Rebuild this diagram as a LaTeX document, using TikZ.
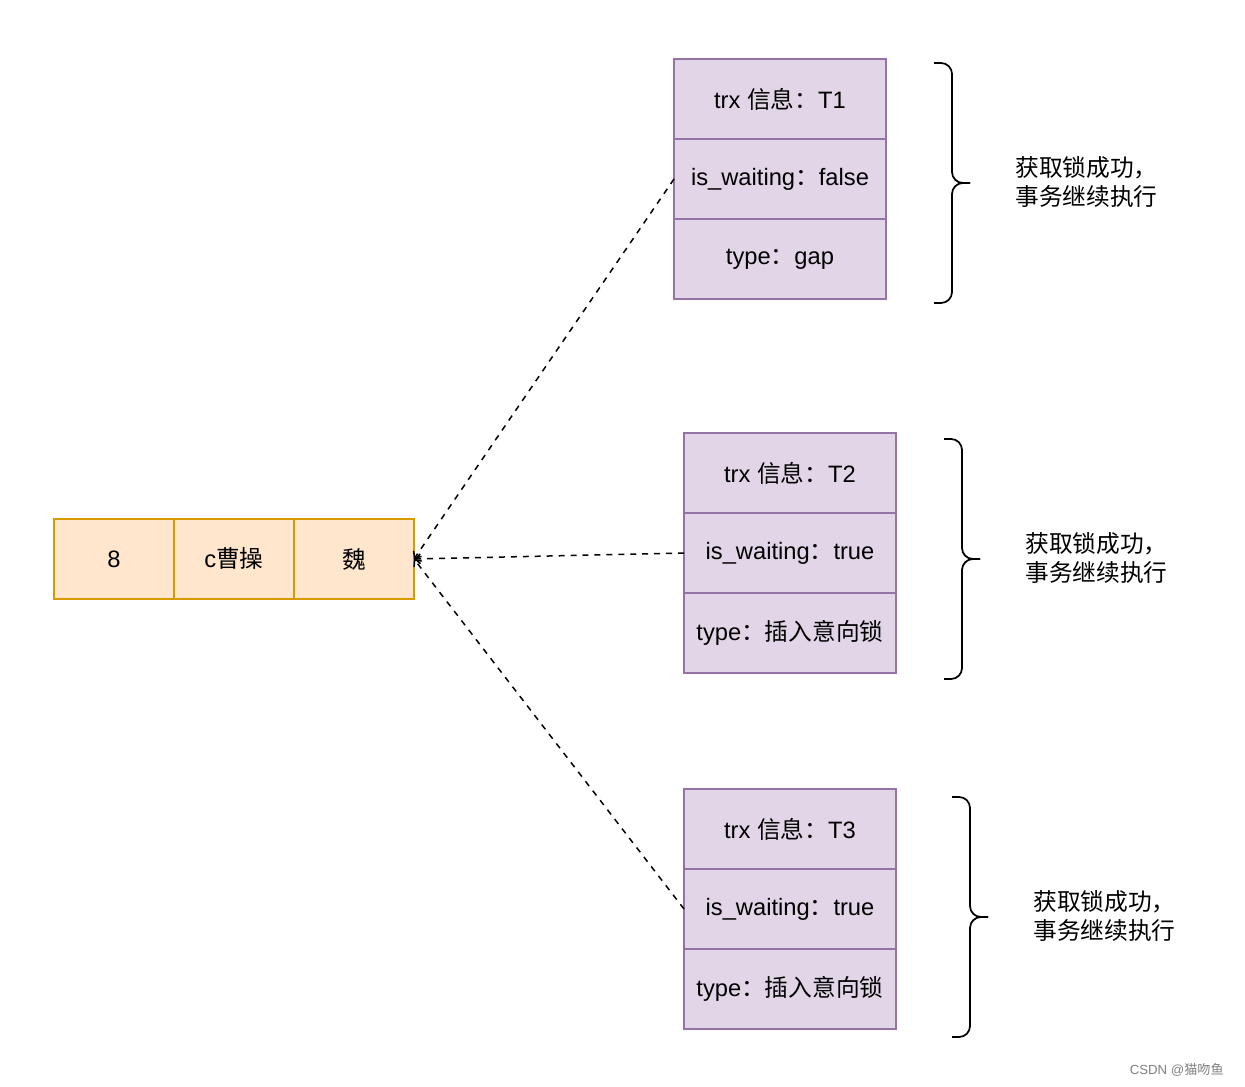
\documentclass[tikz,border=0pt]{standalone}
\usepackage{fontspec}
\setmainfont{Liberation Sans}
\newfontfamily\cjk{Noto Sans CJK SC}
\newcommand{\zh}[1]{{\cjk #1}}
\usetikzlibrary{arrows.meta}

\tikzset{
  keycell/.style={draw=keyline, fill=keyfill, line width=0.9pt, minimum width=2.4cm, minimum height=1.6cm, inner sep=0pt, outer sep=0pt},
  lockcell/.style={draw=lockline, fill=lockfill, line width=0.9pt, minimum width=4.24cm, minimum height=1.6cm, inner sep=0pt, outer sep=0pt},
  link/.style={dashed, dash pattern=on 3.4pt off 3.4pt, line width=0.85pt, -{Straight Barb[length=3pt,width=5.5pt]}},
  bracket/.style={rounded corners=0.22cm, line width=1pt},
  note/.style={anchor=west, align=left, inner sep=0pt}
}
\definecolor{keyfill}{HTML}{FFE6CC}
\definecolor{keyline}{HTML}{D79B00}
\definecolor{lockfill}{HTML}{E1D5E7}
\definecolor{lockline}{HTML}{9673A6}

\begin{document}
\begin{tikzpicture}[x=0.02cm, y=-0.02cm, font=\fontsize{13.5}{16}\selectfont]
  \useasboundingbox (0,0) rectangle (1245,1087);

  % record
  \node[keycell] (kid) at (114,559) {8};
  \node[keycell] (kname) at (234,559) {c\zh{曹操}};
  \node[keycell] (kwei) at (354,559) {\zh{魏}};

  % lock T1
  \node[lockcell] (t1trx) at (780,99) {trx \zh{信息：}T1};
  \node[lockcell] (t1wait) at (780,179) {is\_waiting\zh{：}false};
  \node[lockcell] (t1type) at (780,259) {type\zh{：}gap};

  % lock T2
  \node[lockcell] (t2trx) at (790,473) {trx \zh{信息：}T2};
  \node[lockcell] (t2wait) at (790,553) {is\_waiting\zh{：}true};
  \node[lockcell] (t2type) at (790,633) {type\zh{：插入意向锁}};

  % lock T3
  \node[lockcell] (t3trx) at (790,829) {trx \zh{信息：}T3};
  \node[lockcell] (t3wait) at (790,909) {is\_waiting\zh{：}true};
  \node[lockcell] (t3type) at (790,989) {type\zh{：插入意向锁}};

  \draw[link] (t1wait.west) -- (kwei.east);
  \draw[link] (t2wait.west) -- (kwei.east);
  \draw[link] (t3wait.west) -- (kwei.east);

  % braces + notes
  \coordinate (b1top) at (934,63);
  \coordinate (b1bot) at (934,303);
  \coordinate (b2top) at (944,439);
  \coordinate (b2bot) at (944,679);
  \coordinate (b3top) at (952,797);
  \coordinate (b3bot) at (952,1037);
  \draw[bracket] (b1top) -- ++(18,0) -- ++(0,120) -- ++(18,0);
  \draw[bracket] (b1bot) -- ++(18,0) -- ++(0,-120) -- ++(18,0);
  \draw[bracket] (b2top) -- ++(18,0) -- ++(0,120) -- ++(18,0);
  \draw[bracket] (b2bot) -- ++(18,0) -- ++(0,-120) -- ++(18,0);
  \draw[bracket] (b3top) -- ++(18,0) -- ++(0,120) -- ++(18,0);
  \draw[bracket] (b3bot) -- ++(18,0) -- ++(0,-120) -- ++(18,0);

  \node[note] (n1) at (1015,182) {\zh{获取锁成功，}\\\zh{事务继续执行}};
  \node[note] (n2) at (1025,558) {\zh{获取锁成功，}\\\zh{事务继续执行}};
  \node[note] (n3) at (1033,916) {\zh{获取锁成功，}\\\zh{事务继续执行}};

  \node[anchor=east, text=gray, font=\fontsize{7.5}{9}\selectfont] (mark) at (1230,1070) {CSDN @\zh{猫吻鱼}};
\end{tikzpicture}
\end{document}
